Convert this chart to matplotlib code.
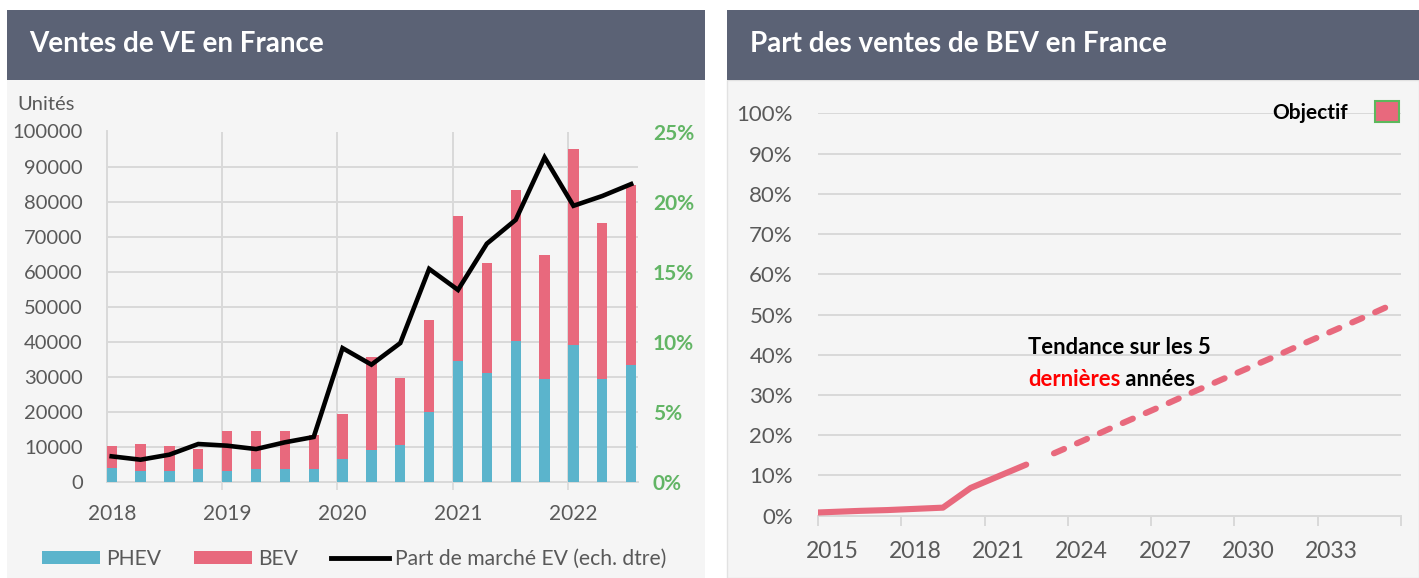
import matplotlib
matplotlib.use('Agg')
import matplotlib.pyplot as plt
import numpy as np
from matplotlib.patches import Rectangle, Patch
from matplotlib.lines import Line2D
from matplotlib.ticker import FixedLocator, FuncFormatter, NullFormatter

plt.rcParams['font.family'] = ['Lato', 'DejaVu Sans']

# ---------------- Data ----------------
# Left chart: quarterly sales 2018 Q1 .. 2022 Q3
quarters = ['2018T1', '2018T2', '2018T3', '2018T4',
            '2019T1', '2019T2', '2019T3', '2019T4',
            '2020T1', '2020T2', '2020T3', '2020T4',
            '2021T1', '2021T2', '2021T3', '2021T4',
            '2022T1', '2022T2', '2022T3']
phev = [4000, 3200, 3200, 3700, 3200, 3700, 3700, 3700,
        6700, 9000, 10500, 20000,
        34600, 31100, 40300, 29500,
        39000, 29500, 33500]
bev = [6400, 7500, 7200, 5700, 11300, 10800, 10800, 9600,
       12600, 26600, 19300, 26100,
       41200, 31400, 42900, 35300,
       56000, 44400, 51300]
ev_share = [1.83, 1.59, 1.95, 2.71, 2.59, 2.35, 2.83, 3.21,
            9.55, 8.37, 9.91, 15.2,
            13.7, 17.0, 18.7, 23.15,
            19.7, 20.4, 21.25]
sales_years = ['2018', '2019', '2020', '2021', '2022']
left_yticks = [0, 10000, 20000, 30000, 40000, 50000, 60000, 70000, 80000, 90000, 100000]
right_yticks = [0, 5, 10, 15, 20, 25]

# Right chart: BEV share of sales (%)
axis_years = list(range(2015, 2036))
hist_years = [2015, 2016, 2017, 2018, 2019, 2020, 2021, 2022]
hist_share = [0.8, 1.2, 1.4, 1.7, 2.0, 6.9, 9.8, 12.7]
trend_years = list(range(2023, 2036))
trend_share = [15.5, 18.5, 21.6, 24.6, 27.6, 30.7, 33.7, 36.7, 39.7, 42.8, 45.8, 48.8, 51.9]
share_ticks = [0, 10, 20, 30, 40, 50, 60, 70, 80, 90, 100]
year_label_step = 3

# ---------------- Style ----------------
W, H = 1419, 578
C_PHEV = '#5bb4cc'
C_BEV = '#e8697d'
C_HEAD = '#5b6275'
C_BG = '#f5f5f5'
C_GRID = '#d9d9d9'
C_TXT = '#595959'
C_GREEN = '#62b565'

fig = plt.figure(figsize=(W / 100, H / 100), dpi=100)
fig.patch.set_facecolor('white')

def fx(px):
    return px / W

def fy(py):
    return 1 - py / H

# panels and headers
fig.add_artist(Rectangle((fx(7), 0), fx(705) - fx(7), fy(80), transform=fig.transFigure,
                         facecolor=C_BG, edgecolor='none', zorder=-10))
fig.add_artist(Rectangle((fx(727), 0), fx(1419) - fx(727), fy(80), transform=fig.transFigure,
                         facecolor=C_BG, edgecolor='#e2e2e2', lw=1, zorder=-10))
fig.add_artist(Rectangle((fx(7), fy(80)), fx(705) - fx(7), fy(10) - fy(80), transform=fig.transFigure,
                         facecolor=C_HEAD, edgecolor='none', zorder=-9))
fig.add_artist(Rectangle((fx(727), fy(80)), fx(1419) - fx(727), fy(10) - fy(80), transform=fig.transFigure,
                         facecolor=C_HEAD, edgecolor='none', zorder=-9))
fig.text(fx(29), fy(44), 'Ventes de VE en France', color='white', fontsize=20,
         fontweight='bold', va='center', ha='left')
fig.text(fx(750), fy(44), 'Part des ventes de BEV en France', color='white', fontsize=20,
         fontweight='bold', va='center', ha='left')

# ---------------- Left chart ----------------
axL = fig.add_axes([fx(106.5), fy(482), fx(637.5) - fx(106.5), fy(131.5) - fy(482)])
axL.set_facecolor('none')
n = len(quarters)
x = np.arange(n)
bw = 0.36
axL.bar(x, phev, width=bw, align='edge', color=C_PHEV, zorder=3, label='PHEV')
axL.bar(x, bev, width=bw, align='edge', bottom=phev, color=C_BEV, zorder=3, label='BEV')
axL.set_xlim(0, n - 1 + 0.4)
axL.set_ylim(0, 100000)
axL.set_yticks(left_yticks)
axL.yaxis.set_major_formatter(FuncFormatter(lambda v, p: f'{int(v)}'))
axL.grid(axis='y', color=C_GRID, lw=1.4, zorder=0)
year_starts = [i for i, q in enumerate(quarters) if q.endswith('T1')]
axL.set_xticks([i + bw / 2 for i in year_starts])
axL.set_xticklabels(sales_years)
axL.xaxis.set_minor_locator(FixedLocator(year_starts[1:]))
axL.grid(axis='x', which='minor', color=C_GRID, lw=1.4, zorder=0)
axL.tick_params(axis='x', which='major', length=0, pad=16, labelsize=15, labelcolor=C_TXT)
axL.tick_params(axis='x', which='minor', length=6, width=1.2, color=C_GRID)
axL.tick_params(axis='y', length=0, pad=17, labelsize=14.5, labelcolor=C_TXT)
for s in ['top', 'right']:
    axL.spines[s].set_visible(False)
for s in ['left', 'bottom']:
    axL.spines[s].set_color(C_GRID)
    axL.spines[s].set_linewidth(1.4)

axL2 = axL.twinx()
axL2.set_ylim(0, 25)
axL2.plot(x + bw / 2, ev_share, color='black', lw=3.3, zorder=5, solid_joinstyle='miter')
axL2.set_yticks(right_yticks)
axL2.yaxis.set_major_formatter(FuncFormatter(lambda v, p: f'{int(v)}%'))
axL2.tick_params(axis='y', length=0, pad=11, labelsize=15, labelcolor=C_GREEN)
for lab in axL2.get_yticklabels():
    lab.set_fontweight('bold')
for s in axL2.spines.values():
    s.set_visible(False)

fig.text(fx(17), fy(104), 'Unités', fontsize=14.5, color=C_TXT, va='center', ha='left')

handles = [Patch(facecolor=C_PHEV, edgecolor='none'),
           Patch(facecolor=C_BEV, edgecolor='none'),
           Line2D([0], [0], color='black', lw=3.5)]
fig.legend(handles, ['PHEV', 'BEV', 'Part de marché EV (ech. dtre)'], ncol=3,
           loc='center left', bbox_to_anchor=(fx(42), fy(559)), frameon=False,
           fontsize=15.2, labelcolor=C_TXT, handlelength=2.75, handleheight=0.62,
           handletextpad=0.3, columnspacing=1.55, borderpad=0, borderaxespad=0)

# ---------------- Right chart ----------------
axR = fig.add_axes([fx(818), fy(515.7), fx(1401) - fx(818), fy(113.3) - fy(515.7)])
axR.set_facecolor('none')
ncat = len(axis_years)
axR.set_xlim(0, ncat)
axR.set_ylim(0, 100)
xh = np.array([y - axis_years[0] + 0.5 for y in hist_years], dtype=float)
xh[0] = axR.get_xlim()[0]
xt = np.array([y - axis_years[0] + 0.5 for y in trend_years], dtype=float)
axR.plot(xh, hist_share, color=C_BEV, lw=4.4, solid_capstyle='round',
         solid_joinstyle='round', zorder=4)
axR.plot(xt, trend_share, color=C_BEV, lw=4.4, dashes=(1.8, 2.3),
         dash_capstyle='round', zorder=4)
axR.set_yticks(share_ticks)
axR.yaxis.set_major_formatter(FuncFormatter(lambda v, p: f'{int(v)}%'))
axR.grid(axis='y', color=C_GRID, lw=1.4, zorder=0)
axR.tick_params(axis='y', length=0, pad=18, labelsize=16, labelcolor=C_TXT)
axR.set_xticks(np.arange(0, ncat + 1, year_label_step))
axR.xaxis.set_major_formatter(NullFormatter())
lab_years = axis_years[::year_label_step]
axR.xaxis.set_minor_locator(FixedLocator([y - axis_years[0] + 0.5 for y in lab_years]))
axR.xaxis.set_minor_formatter(FuncFormatter(lambda v, p: str(int(axis_years[0] + v - 0.5))))
axR.tick_params(axis='x', which='major', length=7, width=1.4, color=C_GRID)
axR.tick_params(axis='x', which='minor', length=0, pad=18, labelsize=16.5, labelcolor=C_TXT)
for s in ['top', 'right', 'left']:
    axR.spines[s].set_visible(False)
axR.spines['bottom'].set_color(C_GRID)
axR.spines['bottom'].set_linewidth(1.4)

# annotation
t1 = fig.text(fx(1028), fy(348), 'Tendance sur les 5', fontsize=15.8, fontweight='bold',
              color='black', va='center', ha='left')
t2 = fig.text(fx(1028), fy(380), 'dernières', fontsize=15.8, fontweight='bold',
              color='red', va='center', ha='left')
axR.annotate(' années', xy=(1, 0.5), xycoords=t2, va='center', ha='left',
             fontsize=15.8, fontweight='bold', color='black')

# Objectif legend
axR.legend([Patch(facecolor=C_BEV, edgecolor='#5cb85c', lw=1.5)], ['Objectif'],
           markerfirst=False, loc='center right', bbox_to_anchor=(fx(1399), fy(112)),
           bbox_transform=fig.transFigure, frameon=False, borderpad=0, borderaxespad=0,
           prop={'weight': 'bold', 'size': 15}, handlelength=1.15, handleheight=1.15,
           handletextpad=1.3)

fig.savefig('out.png', dpi=100, facecolor='white')
